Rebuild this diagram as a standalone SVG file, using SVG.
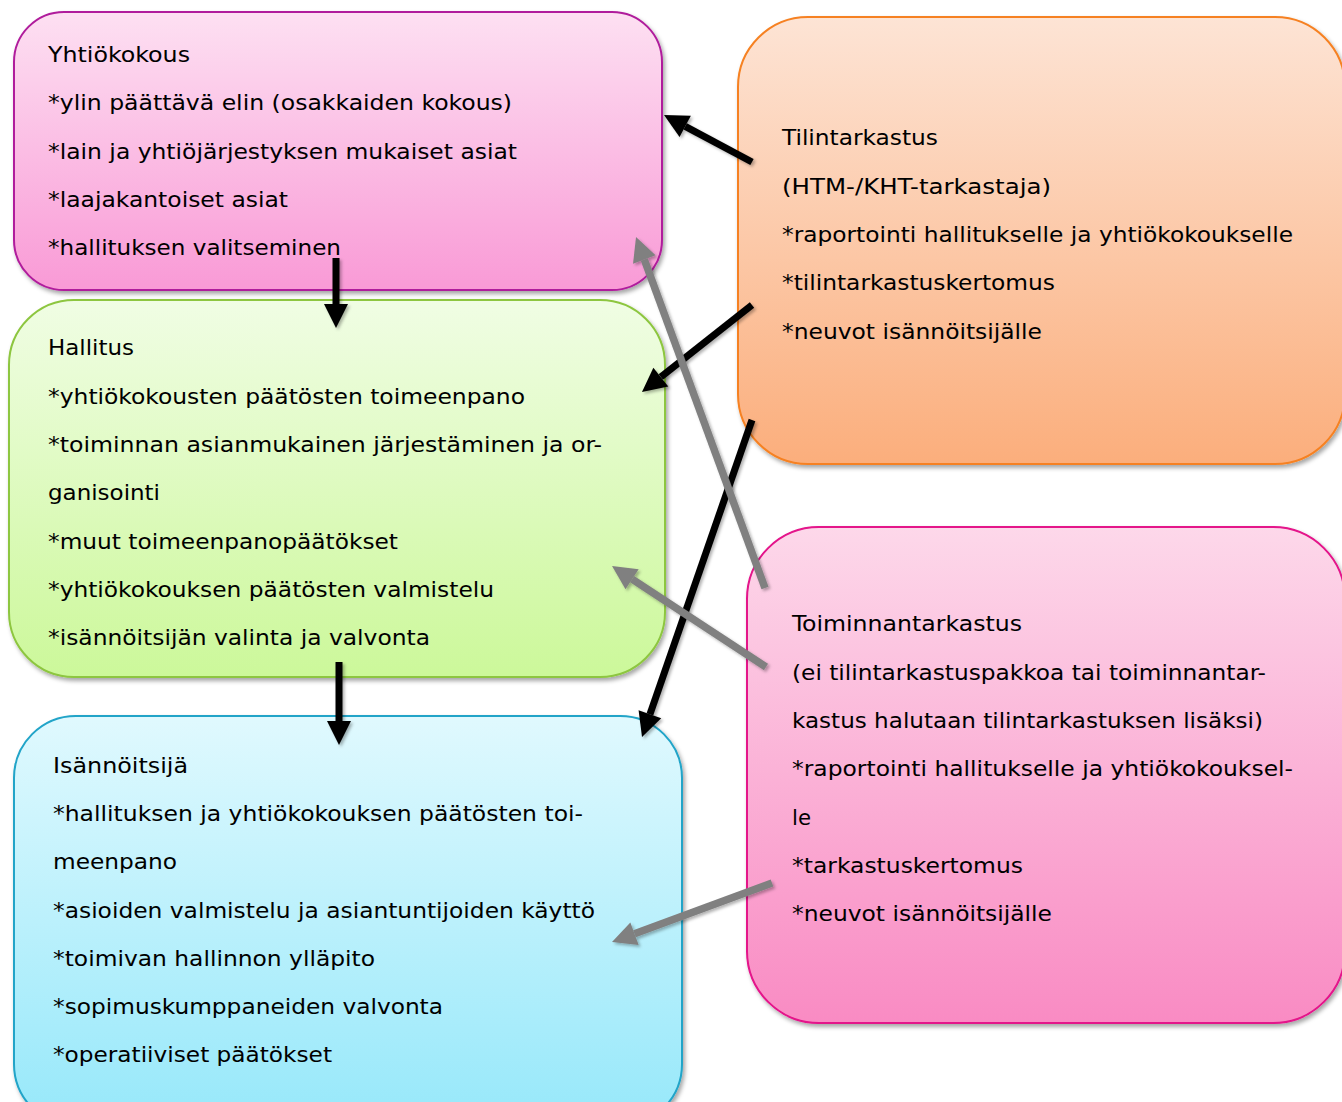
<svg xmlns="http://www.w3.org/2000/svg" width="1342" height="1102" viewBox="0 0 1342 1102">
<style>
text{font-family:"DejaVu Sans Condensed","DejaVu Sans",sans-serif;font-size:22px;fill:#000}
.box{stroke-width:2;filter:url(#sh)}
.ab{stroke:#000;stroke-width:7;fill:none;marker-end:url(#hb);filter:url(#ash)}
.ag{stroke:#808080;stroke-width:7.5;fill:none;marker-end:url(#hg);filter:url(#ash)}
</style>
<defs>
<filter id="sh" x="-5%" y="-5%" width="115%" height="115%"><feDropShadow dx="2" dy="3" stdDeviation="2" flood-color="#000" flood-opacity="0.35"/></filter>
<filter id="ash" filterUnits="userSpaceOnUse" x="0" y="0" width="1342" height="1102"><feDropShadow dx="2" dy="2" stdDeviation="1.5" flood-color="#000" flood-opacity="0.3"/></filter>
<linearGradient id="g1" x1="0" y1="0" x2="0" y2="1"><stop offset="0" stop-color="#fde0f2"/><stop offset="1" stop-color="#f99ad6"/></linearGradient>
<linearGradient id="g2" x1="0" y1="0" x2="0" y2="1"><stop offset="0" stop-color="#f0fde4"/><stop offset="1" stop-color="#ccf89a"/></linearGradient>
<linearGradient id="g3" x1="0" y1="0" x2="0" y2="1"><stop offset="0" stop-color="#e0f9fe"/><stop offset="1" stop-color="#96e8fa"/></linearGradient>
<linearGradient id="g4" x1="0" y1="0" x2="0" y2="1"><stop offset="0" stop-color="#fde4d5"/><stop offset="1" stop-color="#fbae7c"/></linearGradient>
<linearGradient id="g5" x1="0" y1="0" x2="0" y2="1"><stop offset="0" stop-color="#fdd8ea"/><stop offset="1" stop-color="#f98bc3"/></linearGradient>
<marker id="hb" markerUnits="userSpaceOnUse" markerWidth="26" markerHeight="26" refX="0" refY="12" orient="auto" overflow="visible"><path d="M0,0 L24,12 L0,24 z" fill="#000"/></marker>
<marker id="hg" markerUnits="userSpaceOnUse" markerWidth="26" markerHeight="26" refX="0" refY="12" orient="auto" overflow="visible"><path d="M0,0 L24,12 L0,24 z" fill="#808080"/></marker>
</defs>
<rect width="1342" height="1102" fill="#fff"/>

<g id="yhtiokokous">
<rect class="box" x="14" y="12" width="648" height="278" rx="50" fill="url(#g1)" stroke="#b01c9c"/>
<text x="48" y="62" textLength="142" lengthAdjust="spacingAndGlyphs">Yhtiökokous</text>
<text x="48" y="110" textLength="464" lengthAdjust="spacingAndGlyphs">*ylin päättävä elin (osakkaiden kokous)</text>
<text x="48" y="159" textLength="469" lengthAdjust="spacingAndGlyphs">*lain ja yhtiöjärjestyksen mukaiset asiat</text>
<text x="48" y="207" textLength="240" lengthAdjust="spacingAndGlyphs">*laajakantoiset asiat</text>
<text x="48" y="255" textLength="293" lengthAdjust="spacingAndGlyphs">*hallituksen valitseminen</text>
</g>

<g id="hallitus">
<rect class="box" x="9" y="300" width="656" height="377" rx="65" fill="url(#g2)" stroke="#8dc63f"/>
<text x="48" y="355" textLength="86" lengthAdjust="spacingAndGlyphs">Hallitus</text>
<text x="48" y="404" textLength="477" lengthAdjust="spacingAndGlyphs">*yhtiökokousten päätösten toimeenpano</text>
<text x="48" y="452" textLength="554" lengthAdjust="spacingAndGlyphs">*toiminnan asianmukainen järjestäminen ja or-</text>
<text x="48" y="500" textLength="112" lengthAdjust="spacingAndGlyphs">ganisointi</text>
<text x="48" y="549" textLength="350" lengthAdjust="spacingAndGlyphs">*muut toimeenpanopäätökset</text>
<text x="48" y="597" textLength="446" lengthAdjust="spacingAndGlyphs">*yhtiökokouksen päätösten valmistelu</text>
<text x="48" y="645" textLength="382" lengthAdjust="spacingAndGlyphs">*isännöitsijän valinta ja valvonta</text>
</g>

<g id="isannoitsija">
<rect class="box" x="14" y="716" width="668" height="410" rx="62" fill="url(#g3)" stroke="#20a4c8"/>
<text x="53" y="773" textLength="135" lengthAdjust="spacingAndGlyphs">Isännöitsijä</text>
<text x="53" y="821" textLength="530" lengthAdjust="spacingAndGlyphs">*hallituksen ja yhtiökokouksen päätösten toi-</text>
<text x="53" y="869" textLength="124" lengthAdjust="spacingAndGlyphs">meenpano</text>
<text x="53" y="918" textLength="542" lengthAdjust="spacingAndGlyphs">*asioiden valmistelu ja asiantuntijoiden käyttö</text>
<text x="53" y="966" textLength="322" lengthAdjust="spacingAndGlyphs">*toimivan hallinnon ylläpito</text>
<text x="53" y="1014" textLength="390" lengthAdjust="spacingAndGlyphs">*sopimuskumppaneiden valvonta</text>
<text x="53" y="1062" textLength="279" lengthAdjust="spacingAndGlyphs">*operatiiviset päätökset</text>
</g>

<g id="tilintarkastus">
<rect class="box" x="738" y="17" width="607" height="447" rx="70" fill="url(#g4)" stroke="#f68121"/>
<text x="782" y="145" textLength="156" lengthAdjust="spacingAndGlyphs">Tilintarkastus</text>
<text x="782" y="194" textLength="269" lengthAdjust="spacingAndGlyphs">(HTM-/KHT-tarkastaja)</text>
<text x="782" y="242" textLength="511" lengthAdjust="spacingAndGlyphs">*raportointi hallitukselle ja yhtiökokoukselle</text>
<text x="782" y="290" textLength="273" lengthAdjust="spacingAndGlyphs">*tilintarkastuskertomus</text>
<text x="782" y="339" textLength="260" lengthAdjust="spacingAndGlyphs">*neuvot isännöitsijälle</text>
</g>

<g id="toiminnantarkastus">
<rect class="box" x="747" y="527" width="598" height="496" rx="72" fill="url(#g5)" stroke="#e4128a"/>
<text x="792" y="631" textLength="230" lengthAdjust="spacingAndGlyphs">Toiminnantarkastus</text>
<text x="792" y="680" textLength="474" lengthAdjust="spacingAndGlyphs">(ei tilintarkastuspakkoa tai toiminnantar-</text>
<text x="792" y="728" textLength="471" lengthAdjust="spacingAndGlyphs">kastus halutaan tilintarkastuksen lisäksi)</text>
<text x="792" y="776" textLength="501" lengthAdjust="spacingAndGlyphs">*raportointi hallitukselle ja yhtiökokouksel-</text>
<text x="792" y="825" textLength="19" lengthAdjust="spacingAndGlyphs">le</text>
<text x="792" y="873" textLength="231" lengthAdjust="spacingAndGlyphs">*tarkastuskertomus</text>
<text x="792" y="921" textLength="260" lengthAdjust="spacingAndGlyphs">*neuvot isännöitsijälle</text>
</g>

<g id="connectors">
<line class="ab" x1="752" y1="162" x2="685.2" y2="126.3"/>
<line class="ab" x1="752" y1="305" x2="660.8" y2="377.1"/>
<line class="ab" x1="752" y1="420" x2="649.9" y2="714.3"/>
<line class="ab" x1="336" y1="258" x2="336" y2="304"/>
<line class="ab" x1="339" y1="662" x2="339" y2="721"/>
<line class="ag" x1="765" y1="588" x2="644.3" y2="259.5"/>
<line class="ag" x1="766" y1="667" x2="632.1" y2="579.2"/>
<line class="ag" x1="772" y1="883" x2="634.5" y2="933.7"/>
</g>
</svg>
